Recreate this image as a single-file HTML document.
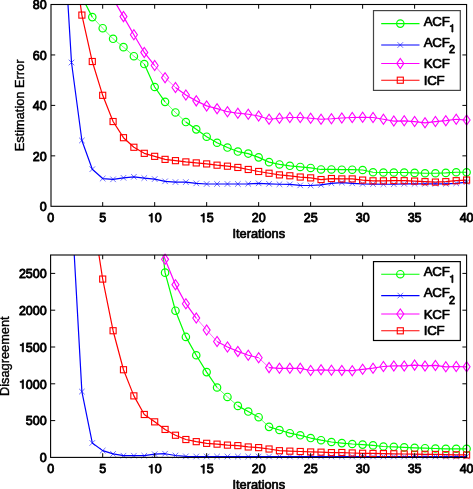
<!DOCTYPE html>
<html><head><meta charset="utf-8"><title>plot</title>
<style>
html,body{margin:0;padding:0;background:#fff;}
svg{display:block;will-change:transform;opacity:0.999}
text{font-family:"Liberation Sans",sans-serif;font-weight:normal;fill:#000;stroke:#000;stroke-width:0.7px;stroke-linejoin:round}
.t{font-size:12.5px}
.l{font-size:12.8px}
.g{font-size:13.3px;letter-spacing:-0.3px}
.s{font-size:10.6px}
.r{stroke-width:0.4px}
</style></head><body>
<svg width="473" height="489" viewBox="0 0 473 489">
<rect width="473" height="489" fill="#fff"/>
<defs>
<clipPath id="c1"><rect x="51.0" y="4.5" width="415.6" height="201.8"/></clipPath>
<clipPath id="c2"><rect x="51.0" y="255.0" width="415.6" height="202.39999999999998"/></clipPath>
</defs>
<g clip-path="url(#c1)">
<path d="M81.89 -3.07L92.29 17.11M144.28 64.03L154.68 86.99L165.07 101.87M185.87 122.05L196.26 129.36L206.66 136.68L217.06 142.73L227.46 147.53L237.86 151.56L248.25 153.58L258.65 157.36L269.05 162.16L279.45 164.43L289.84 165.81L300.24 166.95L310.64 167.96L321.04 169.47L331.43 169.47L341.83 169.72L352.23 169.72L362.63 169.98L373.02 172.25L383.42 172.50L393.82 172.50L404.21 172.50L414.61 172.88L425.01 173.26L435.41 173.26L445.81 172.88L456.20 172.25L466.60 172.25" fill="none" stroke="#00ff00" stroke-width="1.2" stroke-linejoin="round"/>
<path d="M92.29 17.11L102.69 28.21M102.69 28.21L113.09 38.81M113.09 38.81L123.48 47.13M123.48 47.13L133.88 56.21M133.88 56.21L144.28 64.03M165.07 101.87L175.47 112.46M175.47 112.46L185.87 122.05" fill="none" stroke="#00ff00" stroke-width="0.7" stroke-opacity="0.85"/>
<path d="M61.10 -109.01L71.50 62.52L81.89 140.46L92.29 169.22L102.69 178.55L113.09 179.31L123.48 177.80L133.88 176.79L144.28 178.05L154.68 179.06L165.07 181.33L175.47 182.08L185.87 182.08L196.26 183.35L206.66 183.98L217.06 183.98L227.46 183.98L237.86 183.98L248.25 183.85L258.65 183.35L269.05 183.85L279.45 184.23L289.84 184.35L300.24 185.36L310.64 185.49L321.04 184.86L331.43 183.35L341.83 182.59L352.23 183.35L362.63 183.85L373.02 184.10L383.42 184.23L393.82 184.23L404.21 183.85L414.61 183.85L425.01 183.85L435.41 183.85L445.81 183.85L456.20 183.35L466.60 182.08" fill="none" stroke="#0000ff" stroke-width="1.2" stroke-linejoin="round"/>
<path d="M113.09 -1.30L123.48 16.61L133.88 34.77L144.28 52.43L154.68 65.54M175.47 87.49L185.87 95.06L196.26 100.86L206.66 105.90L217.06 108.68L227.46 111.71L237.86 113.22L248.25 114.23L258.65 115.99L269.05 119.27L279.45 118.26L289.84 117.51L300.24 117.51L310.64 118.26L321.04 119.27L331.43 118.77L341.83 118.01L352.23 117.51L362.63 117.26L373.02 117.51L383.42 119.27L393.82 121.04L404.21 120.79L414.61 121.54L425.01 122.81L435.41 121.54L445.81 120.66L456.20 119.27L466.60 120.03" fill="none" stroke="#ff00ff" stroke-width="1.2" stroke-linejoin="round"/>
<path d="M154.68 65.54L165.07 77.65M165.07 77.65L175.47 87.49" fill="none" stroke="#ff00ff" stroke-width="0.7" stroke-opacity="0.85"/>
<path d="M71.50 -58.56L81.89 15.09L92.29 61.51L102.69 95.31L113.09 121.54L123.48 137.69L133.88 147.27L144.28 153.33L154.68 156.35L165.07 159.38L175.47 160.64L185.87 161.90L196.26 162.91L206.66 163.92L217.06 165.18L227.46 166.19L237.86 167.45L248.25 169.47L258.65 171.49L269.05 173.26L279.45 174.89L289.84 175.78L300.24 177.04L310.64 177.87L321.04 179.56L331.43 178.55L341.83 178.93L352.23 178.93L362.63 180.07L373.02 180.82L383.42 180.82L393.82 180.57L404.21 180.70L414.61 181.08L425.01 181.68L435.41 182.08L445.81 181.68L456.20 180.70L466.60 180.07" fill="none" stroke="#ff0000" stroke-width="1.2" stroke-linejoin="round"/>
</g>
<circle cx="92.29" cy="17.11" r="3.7" fill="none" stroke="#00ff00" stroke-width="1.2000000000000002"/>
<circle cx="102.69" cy="28.21" r="3.7" fill="none" stroke="#00ff00" stroke-width="1.2000000000000002"/>
<circle cx="113.09" cy="38.81" r="3.7" fill="none" stroke="#00ff00" stroke-width="1.2000000000000002"/>
<circle cx="123.48" cy="47.13" r="3.7" fill="none" stroke="#00ff00" stroke-width="1.2000000000000002"/>
<circle cx="133.88" cy="56.21" r="3.7" fill="none" stroke="#00ff00" stroke-width="1.2000000000000002"/>
<circle cx="144.28" cy="64.03" r="3.7" fill="none" stroke="#00ff00" stroke-width="1.2000000000000002"/>
<circle cx="154.68" cy="86.99" r="3.7" fill="none" stroke="#00ff00" stroke-width="1.2000000000000002"/>
<circle cx="165.07" cy="101.87" r="3.7" fill="none" stroke="#00ff00" stroke-width="1.2000000000000002"/>
<circle cx="175.47" cy="112.46" r="3.7" fill="none" stroke="#00ff00" stroke-width="1.2000000000000002"/>
<circle cx="185.87" cy="122.05" r="3.7" fill="none" stroke="#00ff00" stroke-width="1.2000000000000002"/>
<circle cx="196.26" cy="129.36" r="3.7" fill="none" stroke="#00ff00" stroke-width="1.2000000000000002"/>
<circle cx="206.66" cy="136.68" r="3.7" fill="none" stroke="#00ff00" stroke-width="1.2000000000000002"/>
<circle cx="217.06" cy="142.73" r="3.7" fill="none" stroke="#00ff00" stroke-width="1.2000000000000002"/>
<circle cx="227.46" cy="147.53" r="3.7" fill="none" stroke="#00ff00" stroke-width="1.2000000000000002"/>
<circle cx="237.86" cy="151.56" r="3.7" fill="none" stroke="#00ff00" stroke-width="1.2000000000000002"/>
<circle cx="248.25" cy="153.58" r="3.7" fill="none" stroke="#00ff00" stroke-width="1.2000000000000002"/>
<circle cx="258.65" cy="157.36" r="3.7" fill="none" stroke="#00ff00" stroke-width="1.2000000000000002"/>
<circle cx="269.05" cy="162.16" r="3.7" fill="none" stroke="#00ff00" stroke-width="1.2000000000000002"/>
<circle cx="279.45" cy="164.43" r="3.7" fill="none" stroke="#00ff00" stroke-width="1.2000000000000002"/>
<circle cx="289.84" cy="165.81" r="3.7" fill="none" stroke="#00ff00" stroke-width="1.2000000000000002"/>
<circle cx="300.24" cy="166.95" r="3.7" fill="none" stroke="#00ff00" stroke-width="1.2000000000000002"/>
<circle cx="310.64" cy="167.96" r="3.7" fill="none" stroke="#00ff00" stroke-width="1.2000000000000002"/>
<circle cx="321.04" cy="169.47" r="3.7" fill="none" stroke="#00ff00" stroke-width="1.2000000000000002"/>
<circle cx="331.43" cy="169.47" r="3.7" fill="none" stroke="#00ff00" stroke-width="1.2000000000000002"/>
<circle cx="341.83" cy="169.72" r="3.7" fill="none" stroke="#00ff00" stroke-width="1.2000000000000002"/>
<circle cx="352.23" cy="169.72" r="3.7" fill="none" stroke="#00ff00" stroke-width="1.2000000000000002"/>
<circle cx="362.63" cy="169.98" r="3.7" fill="none" stroke="#00ff00" stroke-width="1.2000000000000002"/>
<circle cx="373.02" cy="172.25" r="3.7" fill="none" stroke="#00ff00" stroke-width="1.2000000000000002"/>
<circle cx="383.42" cy="172.50" r="3.7" fill="none" stroke="#00ff00" stroke-width="1.2000000000000002"/>
<circle cx="393.82" cy="172.50" r="3.7" fill="none" stroke="#00ff00" stroke-width="1.2000000000000002"/>
<circle cx="404.21" cy="172.50" r="3.7" fill="none" stroke="#00ff00" stroke-width="1.2000000000000002"/>
<circle cx="414.61" cy="172.88" r="3.7" fill="none" stroke="#00ff00" stroke-width="1.2000000000000002"/>
<circle cx="425.01" cy="173.26" r="3.7" fill="none" stroke="#00ff00" stroke-width="1.2000000000000002"/>
<circle cx="435.41" cy="173.26" r="3.7" fill="none" stroke="#00ff00" stroke-width="1.2000000000000002"/>
<circle cx="445.81" cy="172.88" r="3.7" fill="none" stroke="#00ff00" stroke-width="1.2000000000000002"/>
<circle cx="456.20" cy="172.25" r="3.7" fill="none" stroke="#00ff00" stroke-width="1.2000000000000002"/>
<circle cx="466.60" cy="172.25" r="3.7" fill="none" stroke="#00ff00" stroke-width="1.2000000000000002"/>
<path d="M68.70 59.72L74.30 65.32M68.70 65.32L74.30 59.72" fill="none" stroke="#0000ff" stroke-width="0.7" stroke-opacity="0.8"/>
<path d="M79.09 137.66L84.69 143.26M79.09 143.26L84.69 137.66" fill="none" stroke="#0000ff" stroke-width="0.7" stroke-opacity="0.8"/>
<path d="M89.49 166.42L95.09 172.02M89.49 172.02L95.09 166.42" fill="none" stroke="#0000ff" stroke-width="0.7" stroke-opacity="0.8"/>
<path d="M99.89 175.75L105.49 181.35M99.89 181.35L105.49 175.75" fill="none" stroke="#0000ff" stroke-width="0.7" stroke-opacity="0.8"/>
<path d="M110.29 176.51L115.89 182.11M110.29 182.11L115.89 176.51" fill="none" stroke="#0000ff" stroke-width="0.7" stroke-opacity="0.8"/>
<path d="M120.68 175.00L126.28 180.60M120.68 180.60L126.28 175.00" fill="none" stroke="#0000ff" stroke-width="0.7" stroke-opacity="0.8"/>
<path d="M131.08 173.99L136.68 179.59M131.08 179.59L136.68 173.99" fill="none" stroke="#0000ff" stroke-width="0.7" stroke-opacity="0.8"/>
<path d="M141.48 175.25L147.08 180.85M141.48 180.85L147.08 175.25" fill="none" stroke="#0000ff" stroke-width="0.7" stroke-opacity="0.8"/>
<path d="M151.88 176.26L157.48 181.86M151.88 181.86L157.48 176.26" fill="none" stroke="#0000ff" stroke-width="0.7" stroke-opacity="0.8"/>
<path d="M162.27 178.53L167.87 184.13M162.27 184.13L167.87 178.53" fill="none" stroke="#0000ff" stroke-width="0.7" stroke-opacity="0.8"/>
<path d="M172.67 179.28L178.27 184.88M172.67 184.88L178.27 179.28" fill="none" stroke="#0000ff" stroke-width="0.7" stroke-opacity="0.8"/>
<path d="M183.07 179.28L188.67 184.88M183.07 184.88L188.67 179.28" fill="none" stroke="#0000ff" stroke-width="0.7" stroke-opacity="0.8"/>
<path d="M193.46 180.55L199.06 186.15M193.46 186.15L199.06 180.55" fill="none" stroke="#0000ff" stroke-width="0.7" stroke-opacity="0.8"/>
<path d="M203.86 181.18L209.46 186.78M203.86 186.78L209.46 181.18" fill="none" stroke="#0000ff" stroke-width="0.7" stroke-opacity="0.8"/>
<path d="M214.26 181.18L219.86 186.78M214.26 186.78L219.86 181.18" fill="none" stroke="#0000ff" stroke-width="0.7" stroke-opacity="0.8"/>
<path d="M224.66 181.18L230.26 186.78M224.66 186.78L230.26 181.18" fill="none" stroke="#0000ff" stroke-width="0.7" stroke-opacity="0.8"/>
<path d="M235.06 181.18L240.66 186.78M235.06 186.78L240.66 181.18" fill="none" stroke="#0000ff" stroke-width="0.7" stroke-opacity="0.8"/>
<path d="M245.45 181.05L251.05 186.65M245.45 186.65L251.05 181.05" fill="none" stroke="#0000ff" stroke-width="0.7" stroke-opacity="0.8"/>
<path d="M255.85 180.55L261.45 186.15M255.85 186.15L261.45 180.55" fill="none" stroke="#0000ff" stroke-width="0.7" stroke-opacity="0.8"/>
<path d="M266.25 181.05L271.85 186.65M266.25 186.65L271.85 181.05" fill="none" stroke="#0000ff" stroke-width="0.7" stroke-opacity="0.8"/>
<path d="M276.65 181.43L282.25 187.03M276.65 187.03L282.25 181.43" fill="none" stroke="#0000ff" stroke-width="0.7" stroke-opacity="0.8"/>
<path d="M287.04 181.55L292.64 187.15M287.04 187.15L292.64 181.55" fill="none" stroke="#0000ff" stroke-width="0.7" stroke-opacity="0.8"/>
<path d="M297.44 182.56L303.04 188.16M297.44 188.16L303.04 182.56" fill="none" stroke="#0000ff" stroke-width="0.7" stroke-opacity="0.8"/>
<path d="M307.84 182.69L313.44 188.29M307.84 188.29L313.44 182.69" fill="none" stroke="#0000ff" stroke-width="0.7" stroke-opacity="0.8"/>
<path d="M318.24 182.06L323.84 187.66M318.24 187.66L323.84 182.06" fill="none" stroke="#0000ff" stroke-width="0.7" stroke-opacity="0.8"/>
<path d="M328.63 180.55L334.23 186.15M328.63 186.15L334.23 180.55" fill="none" stroke="#0000ff" stroke-width="0.7" stroke-opacity="0.8"/>
<path d="M339.03 179.79L344.63 185.39M339.03 185.39L344.63 179.79" fill="none" stroke="#0000ff" stroke-width="0.7" stroke-opacity="0.8"/>
<path d="M349.43 180.55L355.03 186.15M349.43 186.15L355.03 180.55" fill="none" stroke="#0000ff" stroke-width="0.7" stroke-opacity="0.8"/>
<path d="M359.83 181.05L365.43 186.65M359.83 186.65L365.43 181.05" fill="none" stroke="#0000ff" stroke-width="0.7" stroke-opacity="0.8"/>
<path d="M370.22 181.30L375.82 186.90M370.22 186.90L375.82 181.30" fill="none" stroke="#0000ff" stroke-width="0.7" stroke-opacity="0.8"/>
<path d="M380.62 181.43L386.22 187.03M380.62 187.03L386.22 181.43" fill="none" stroke="#0000ff" stroke-width="0.7" stroke-opacity="0.8"/>
<path d="M391.02 181.43L396.62 187.03M391.02 187.03L396.62 181.43" fill="none" stroke="#0000ff" stroke-width="0.7" stroke-opacity="0.8"/>
<path d="M401.41 181.05L407.01 186.65M401.41 186.65L407.01 181.05" fill="none" stroke="#0000ff" stroke-width="0.7" stroke-opacity="0.8"/>
<path d="M411.81 181.05L417.41 186.65M411.81 186.65L417.41 181.05" fill="none" stroke="#0000ff" stroke-width="0.7" stroke-opacity="0.8"/>
<path d="M422.21 181.05L427.81 186.65M422.21 186.65L427.81 181.05" fill="none" stroke="#0000ff" stroke-width="0.7" stroke-opacity="0.8"/>
<path d="M432.61 181.05L438.21 186.65M432.61 186.65L438.21 181.05" fill="none" stroke="#0000ff" stroke-width="0.7" stroke-opacity="0.8"/>
<path d="M443.00 181.05L448.61 186.65M443.00 186.65L448.61 181.05" fill="none" stroke="#0000ff" stroke-width="0.7" stroke-opacity="0.8"/>
<path d="M453.40 180.55L459.00 186.15M453.40 186.15L459.00 180.55" fill="none" stroke="#0000ff" stroke-width="0.7" stroke-opacity="0.8"/>
<path d="M463.80 179.28L469.40 184.88M463.80 184.88L469.40 179.28" fill="none" stroke="#0000ff" stroke-width="0.7" stroke-opacity="0.8"/>
<path d="M119.98 16.61L123.48 11.56L126.98 16.61L123.48 21.66Z" fill="none" stroke="#ff00ff" stroke-width="1.1"/>
<path d="M130.38 34.77L133.88 29.72L137.38 34.77L133.88 39.82Z" fill="none" stroke="#ff00ff" stroke-width="1.1"/>
<path d="M140.78 52.43L144.28 47.38L147.78 52.43L144.28 57.48Z" fill="none" stroke="#ff00ff" stroke-width="1.1"/>
<path d="M151.18 65.54L154.68 60.49L158.18 65.54L154.68 70.59Z" fill="none" stroke="#ff00ff" stroke-width="1.1"/>
<path d="M161.57 77.65L165.07 72.60L168.57 77.65L165.07 82.70Z" fill="none" stroke="#ff00ff" stroke-width="1.1"/>
<path d="M171.97 87.49L175.47 82.44L178.97 87.49L175.47 92.54Z" fill="none" stroke="#ff00ff" stroke-width="1.1"/>
<path d="M182.37 95.06L185.87 90.01L189.37 95.06L185.87 100.11Z" fill="none" stroke="#ff00ff" stroke-width="1.1"/>
<path d="M192.76 100.86L196.26 95.81L199.76 100.86L196.26 105.91Z" fill="none" stroke="#ff00ff" stroke-width="1.1"/>
<path d="M203.16 105.90L206.66 100.85L210.16 105.90L206.66 110.95Z" fill="none" stroke="#ff00ff" stroke-width="1.1"/>
<path d="M213.56 108.68L217.06 103.63L220.56 108.68L217.06 113.73Z" fill="none" stroke="#ff00ff" stroke-width="1.1"/>
<path d="M223.96 111.71L227.46 106.66L230.96 111.71L227.46 116.76Z" fill="none" stroke="#ff00ff" stroke-width="1.1"/>
<path d="M234.36 113.22L237.86 108.17L241.36 113.22L237.86 118.27Z" fill="none" stroke="#ff00ff" stroke-width="1.1"/>
<path d="M244.75 114.23L248.25 109.18L251.75 114.23L248.25 119.28Z" fill="none" stroke="#ff00ff" stroke-width="1.1"/>
<path d="M255.15 115.99L258.65 110.94L262.15 115.99L258.65 121.04Z" fill="none" stroke="#ff00ff" stroke-width="1.1"/>
<path d="M265.55 119.27L269.05 114.22L272.55 119.27L269.05 124.32Z" fill="none" stroke="#ff00ff" stroke-width="1.1"/>
<path d="M275.95 118.26L279.45 113.21L282.95 118.26L279.45 123.31Z" fill="none" stroke="#ff00ff" stroke-width="1.1"/>
<path d="M286.34 117.51L289.84 112.46L293.34 117.51L289.84 122.56Z" fill="none" stroke="#ff00ff" stroke-width="1.1"/>
<path d="M296.74 117.51L300.24 112.46L303.74 117.51L300.24 122.56Z" fill="none" stroke="#ff00ff" stroke-width="1.1"/>
<path d="M307.14 118.26L310.64 113.21L314.14 118.26L310.64 123.31Z" fill="none" stroke="#ff00ff" stroke-width="1.1"/>
<path d="M317.54 119.27L321.04 114.22L324.54 119.27L321.04 124.32Z" fill="none" stroke="#ff00ff" stroke-width="1.1"/>
<path d="M327.93 118.77L331.43 113.72L334.93 118.77L331.43 123.82Z" fill="none" stroke="#ff00ff" stroke-width="1.1"/>
<path d="M338.33 118.01L341.83 112.96L345.33 118.01L341.83 123.06Z" fill="none" stroke="#ff00ff" stroke-width="1.1"/>
<path d="M348.73 117.51L352.23 112.46L355.73 117.51L352.23 122.56Z" fill="none" stroke="#ff00ff" stroke-width="1.1"/>
<path d="M359.13 117.26L362.63 112.21L366.13 117.26L362.63 122.31Z" fill="none" stroke="#ff00ff" stroke-width="1.1"/>
<path d="M369.52 117.51L373.02 112.46L376.52 117.51L373.02 122.56Z" fill="none" stroke="#ff00ff" stroke-width="1.1"/>
<path d="M379.92 119.27L383.42 114.22L386.92 119.27L383.42 124.32Z" fill="none" stroke="#ff00ff" stroke-width="1.1"/>
<path d="M390.32 121.04L393.82 115.99L397.32 121.04L393.82 126.09Z" fill="none" stroke="#ff00ff" stroke-width="1.1"/>
<path d="M400.71 120.79L404.21 115.74L407.71 120.79L404.21 125.84Z" fill="none" stroke="#ff00ff" stroke-width="1.1"/>
<path d="M411.11 121.54L414.61 116.49L418.11 121.54L414.61 126.59Z" fill="none" stroke="#ff00ff" stroke-width="1.1"/>
<path d="M421.51 122.81L425.01 117.76L428.51 122.81L425.01 127.86Z" fill="none" stroke="#ff00ff" stroke-width="1.1"/>
<path d="M431.91 121.54L435.41 116.49L438.91 121.54L435.41 126.59Z" fill="none" stroke="#ff00ff" stroke-width="1.1"/>
<path d="M442.31 120.66L445.81 115.61L449.31 120.66L445.81 125.71Z" fill="none" stroke="#ff00ff" stroke-width="1.1"/>
<path d="M452.70 119.27L456.20 114.22L459.70 119.27L456.20 124.32Z" fill="none" stroke="#ff00ff" stroke-width="1.1"/>
<path d="M463.10 120.03L466.60 114.98L470.10 120.03L466.60 125.08Z" fill="none" stroke="#ff00ff" stroke-width="1.1"/>
<rect x="78.84" y="12.04" width="6.1" height="6.1" fill="none" stroke="#ff0000" stroke-width="1.1"/>
<rect x="89.24" y="58.46" width="6.1" height="6.1" fill="none" stroke="#ff0000" stroke-width="1.1"/>
<rect x="99.64" y="92.26" width="6.1" height="6.1" fill="none" stroke="#ff0000" stroke-width="1.1"/>
<rect x="110.04" y="118.49" width="6.1" height="6.1" fill="none" stroke="#ff0000" stroke-width="1.1"/>
<rect x="120.43" y="134.64" width="6.1" height="6.1" fill="none" stroke="#ff0000" stroke-width="1.1"/>
<rect x="130.83" y="144.22" width="6.1" height="6.1" fill="none" stroke="#ff0000" stroke-width="1.1"/>
<rect x="141.23" y="150.28" width="6.1" height="6.1" fill="none" stroke="#ff0000" stroke-width="1.1"/>
<rect x="151.62" y="153.30" width="6.1" height="6.1" fill="none" stroke="#ff0000" stroke-width="1.1"/>
<rect x="162.02" y="156.33" width="6.1" height="6.1" fill="none" stroke="#ff0000" stroke-width="1.1"/>
<rect x="172.42" y="157.59" width="6.1" height="6.1" fill="none" stroke="#ff0000" stroke-width="1.1"/>
<rect x="182.82" y="158.85" width="6.1" height="6.1" fill="none" stroke="#ff0000" stroke-width="1.1"/>
<rect x="193.21" y="159.86" width="6.1" height="6.1" fill="none" stroke="#ff0000" stroke-width="1.1"/>
<rect x="203.61" y="160.87" width="6.1" height="6.1" fill="none" stroke="#ff0000" stroke-width="1.1"/>
<rect x="214.01" y="162.13" width="6.1" height="6.1" fill="none" stroke="#ff0000" stroke-width="1.1"/>
<rect x="224.41" y="163.14" width="6.1" height="6.1" fill="none" stroke="#ff0000" stroke-width="1.1"/>
<rect x="234.81" y="164.40" width="6.1" height="6.1" fill="none" stroke="#ff0000" stroke-width="1.1"/>
<rect x="245.20" y="166.42" width="6.1" height="6.1" fill="none" stroke="#ff0000" stroke-width="1.1"/>
<rect x="255.60" y="168.44" width="6.1" height="6.1" fill="none" stroke="#ff0000" stroke-width="1.1"/>
<rect x="266.00" y="170.21" width="6.1" height="6.1" fill="none" stroke="#ff0000" stroke-width="1.1"/>
<rect x="276.40" y="171.84" width="6.1" height="6.1" fill="none" stroke="#ff0000" stroke-width="1.1"/>
<rect x="286.79" y="172.73" width="6.1" height="6.1" fill="none" stroke="#ff0000" stroke-width="1.1"/>
<rect x="297.19" y="173.99" width="6.1" height="6.1" fill="none" stroke="#ff0000" stroke-width="1.1"/>
<rect x="307.59" y="174.82" width="6.1" height="6.1" fill="none" stroke="#ff0000" stroke-width="1.1"/>
<rect x="317.99" y="176.51" width="6.1" height="6.1" fill="none" stroke="#ff0000" stroke-width="1.1"/>
<rect x="328.38" y="175.50" width="6.1" height="6.1" fill="none" stroke="#ff0000" stroke-width="1.1"/>
<rect x="338.78" y="175.88" width="6.1" height="6.1" fill="none" stroke="#ff0000" stroke-width="1.1"/>
<rect x="349.18" y="175.88" width="6.1" height="6.1" fill="none" stroke="#ff0000" stroke-width="1.1"/>
<rect x="359.58" y="177.02" width="6.1" height="6.1" fill="none" stroke="#ff0000" stroke-width="1.1"/>
<rect x="369.97" y="177.77" width="6.1" height="6.1" fill="none" stroke="#ff0000" stroke-width="1.1"/>
<rect x="380.37" y="177.77" width="6.1" height="6.1" fill="none" stroke="#ff0000" stroke-width="1.1"/>
<rect x="390.77" y="177.52" width="6.1" height="6.1" fill="none" stroke="#ff0000" stroke-width="1.1"/>
<rect x="401.16" y="177.65" width="6.1" height="6.1" fill="none" stroke="#ff0000" stroke-width="1.1"/>
<rect x="411.56" y="178.03" width="6.1" height="6.1" fill="none" stroke="#ff0000" stroke-width="1.1"/>
<rect x="421.96" y="178.63" width="6.1" height="6.1" fill="none" stroke="#ff0000" stroke-width="1.1"/>
<rect x="432.36" y="179.03" width="6.1" height="6.1" fill="none" stroke="#ff0000" stroke-width="1.1"/>
<rect x="442.75" y="178.63" width="6.1" height="6.1" fill="none" stroke="#ff0000" stroke-width="1.1"/>
<rect x="453.15" y="177.65" width="6.1" height="6.1" fill="none" stroke="#ff0000" stroke-width="1.1"/>
<rect x="463.55" y="177.02" width="6.1" height="6.1" fill="none" stroke="#ff0000" stroke-width="1.1"/>
<text x="47.23" y="222.20" style="font-size:12.5px;stroke-width:0.85px">0</text>
<path d="M102.69 206.3v-4.2M102.69 4.5v4.2" stroke="#000" stroke-width="1"/>
<text x="99.21" y="222.20" style="font-size:12.5px;stroke-width:0.85px">5</text>
<path d="M154.68 206.3v-4.2M154.68 4.5v4.2" stroke="#000" stroke-width="1"/>
<path transform="translate(147.73 222.20) scale(12.5)" d="M0.359 0H0.271V-0.505H0.101V-0.568C0.2 -0.572 0.288 -0.6 0.302 -0.709H0.359Z" fill="#000" stroke="#000" stroke-width="0.0680" stroke-linejoin="round"/><text x="154.68" y="222.20" style="font-size:12.5px;stroke-width:0.85px">0</text>
<path d="M206.66 206.3v-4.2M206.66 4.5v4.2" stroke="#000" stroke-width="1"/>
<path transform="translate(199.71 222.20) scale(12.5)" d="M0.359 0H0.271V-0.505H0.101V-0.568C0.2 -0.572 0.288 -0.6 0.302 -0.709H0.359Z" fill="#000" stroke="#000" stroke-width="0.0680" stroke-linejoin="round"/><text x="206.66" y="222.20" style="font-size:12.5px;stroke-width:0.85px">5</text>
<path d="M258.65 206.3v-4.2M258.65 4.5v4.2" stroke="#000" stroke-width="1"/>
<text x="251.70" y="222.20" style="font-size:12.5px;stroke-width:0.85px">2</text><text x="258.65" y="222.20" style="font-size:12.5px;stroke-width:0.85px">0</text>
<path d="M310.64 206.3v-4.2M310.64 4.5v4.2" stroke="#000" stroke-width="1"/>
<text x="303.69" y="222.20" style="font-size:12.5px;stroke-width:0.85px">2</text><text x="310.64" y="222.20" style="font-size:12.5px;stroke-width:0.85px">5</text>
<path d="M362.63 206.3v-4.2M362.63 4.5v4.2" stroke="#000" stroke-width="1"/>
<text x="355.68" y="222.20" style="font-size:12.5px;stroke-width:0.85px">3</text><text x="362.63" y="222.20" style="font-size:12.5px;stroke-width:0.85px">0</text>
<path d="M414.61 206.3v-4.2M414.61 4.5v4.2" stroke="#000" stroke-width="1"/>
<text x="407.66" y="222.20" style="font-size:12.5px;stroke-width:0.85px">3</text><text x="414.61" y="222.20" style="font-size:12.5px;stroke-width:0.85px">5</text>
<text x="459.65" y="222.20" style="font-size:12.5px;stroke-width:0.85px">4</text><text x="466.60" y="222.20" style="font-size:12.5px;stroke-width:0.85px">0</text>
<text x="39.75" y="211.05" style="font-size:12.5px;stroke-width:0.85px">0</text>
<path d="M51.0 155.85h4.2M466.6 155.85h-4.2" stroke="#000" stroke-width="1"/>
<text x="32.80" y="160.60" style="font-size:12.5px;stroke-width:0.85px">2</text><text x="39.75" y="160.60" style="font-size:12.5px;stroke-width:0.85px">0</text>
<path d="M51.0 105.40h4.2M466.6 105.40h-4.2" stroke="#000" stroke-width="1"/>
<text x="32.80" y="110.15" style="font-size:12.5px;stroke-width:0.85px">4</text><text x="39.75" y="110.15" style="font-size:12.5px;stroke-width:0.85px">0</text>
<path d="M51.0 54.95h4.2M466.6 54.95h-4.2" stroke="#000" stroke-width="1"/>
<text x="32.80" y="59.70" style="font-size:12.5px;stroke-width:0.85px">6</text><text x="39.75" y="59.70" style="font-size:12.5px;stroke-width:0.85px">0</text>
<text x="32.80" y="9.25" style="font-size:12.5px;stroke-width:0.85px">8</text><text x="39.75" y="9.25" style="font-size:12.5px;stroke-width:0.85px">0</text>
<rect x="51.0" y="4.5" width="415.6" height="201.8" fill="none" stroke="#000" stroke-width="1.1"/>
<text x="258.80" y="237.50" text-anchor="middle" class="l">Iterations</text>
<text transform="translate(23.8,105.40) rotate(-90)" text-anchor="middle" class="l r">Estimation Error</text>
<rect x="373.5" y="10.6" width="86.80000000000001" height="79.8" fill="#fff" stroke="#444" stroke-width="1.2"/>
<path d="M381.2 23.60H419.5" stroke="#00ff00" stroke-width="1.05"/>
<circle cx="400.30" cy="23.60" r="3.7" fill="none" stroke="#00ff00" stroke-width="1.2000000000000002"/>
<text x="423.8" y="25.55" class="g">ACF</text>
<path transform="translate(449.00 32.00) scale(10.8)" d="M0.359 0H0.271V-0.505H0.101V-0.568C0.2 -0.572 0.288 -0.6 0.302 -0.709H0.359Z" fill="#000" stroke="#000" stroke-width="0.0787" stroke-linejoin="round"/>
<path d="M381.2 45.00H419.5" stroke="#0000ff" stroke-width="1.05"/>
<path d="M397.50 42.20L403.10 47.80M397.50 47.80L403.10 42.20" fill="none" stroke="#0000ff" stroke-width="0.7" stroke-opacity="0.8"/>
<text x="423.8" y="46.60" class="g">ACF</text>
<text x="449.00" y="53.30" style="font-size:10.8px;stroke-width:0.85px">2</text>
<path d="M381.2 63.40H419.5" stroke="#ff00ff" stroke-width="1.05"/>
<path d="M396.80 63.40L400.30 58.35L403.80 63.40L400.30 68.45Z" fill="none" stroke="#ff00ff" stroke-width="1.1"/>
<text x="423.8" y="67.90" class="g">KCF</text>
<path d="M381.2 80.20H419.5" stroke="#ff0000" stroke-width="1.05"/>
<rect x="397.25" y="77.15" width="6.1" height="6.1" fill="none" stroke="#ff0000" stroke-width="1.1"/>
<text x="423.8" y="84.80" class="g">ICF</text>
<g clip-path="url(#c2)">
<path d="M154.68 178.90L165.07 272.66L175.47 310.72L185.87 336.92L196.26 355.24L206.66 372.10L217.06 387.48M237.86 405.88L248.25 411.55L258.65 417.21M269.05 426.86L279.45 430.02L289.84 433.19L300.24 435.32L310.64 438.04L321.04 440.18L331.43 442.02L341.83 443.12L352.23 444.00L362.63 444.59L373.02 445.40L383.42 446.51L393.82 446.80L404.21 447.39L414.61 447.91L425.01 448.20L435.41 448.49L445.81 448.79L456.20 448.79L466.60 448.79" fill="none" stroke="#00ff00" stroke-width="1.2" stroke-linejoin="round"/>
<path d="M217.06 387.48L227.46 396.97M227.46 396.97L237.86 405.88M258.65 417.21L269.05 426.86" fill="none" stroke="#00ff00" stroke-width="0.7" stroke-opacity="0.85"/>
<path d="M71.50 205.69L81.89 391.60L92.29 442.97L102.69 450.63L113.09 453.94L123.48 455.71L133.88 455.71L144.28 455.71L154.68 454.16L165.07 453.72L175.47 455.49L185.87 456.37L196.26 456.52L206.66 456.52L217.06 456.52L227.46 456.52L237.86 456.52L248.25 456.52L258.65 456.52L269.05 456.52L279.45 456.52L289.84 456.52L300.24 456.52L310.64 456.52L321.04 456.52L331.43 456.52L341.83 456.52L352.23 456.52L362.63 456.52L373.02 456.52L383.42 456.52L393.82 456.52L404.21 456.52L414.61 456.52L425.01 456.52L435.41 456.52L445.81 456.52L456.20 456.52L466.60 456.52" fill="none" stroke="#0000ff" stroke-width="1.2" stroke-linejoin="round"/>
<path d="M154.68 232.40L165.07 259.34L175.47 284.66L185.87 303.72L196.26 318.08M217.06 341.55L227.46 347.00L237.86 351.42L248.25 355.24L258.65 357.75M269.05 367.61L279.45 368.34L289.84 368.34L300.24 368.34L310.64 370.48L321.04 369.82L331.43 370.26L341.83 370.40L352.23 370.70L362.63 369.30L373.02 368.20L383.42 366.50L393.82 365.92L404.21 365.92L414.61 365.11L425.01 365.92L435.41 365.40L445.81 366.80L456.20 366.50L466.60 366.80" fill="none" stroke="#ff00ff" stroke-width="1.2" stroke-linejoin="round"/>
<path d="M196.26 318.08L206.66 330.07M206.66 330.07L217.06 341.55M258.65 357.75L269.05 367.61" fill="none" stroke="#ff00ff" stroke-width="0.7" stroke-opacity="0.85"/>
<path d="M92.29 212.53L102.69 279.07L113.09 330.73L123.48 369.74L133.88 395.87L144.28 414.49L154.68 421.85L165.07 429.43L175.47 435.25L185.87 439.52L196.26 441.65L206.66 443.34L217.06 444.15L227.46 445.11L237.86 445.62L248.25 446.95L258.65 447.61L269.05 449.01L279.45 450.70L289.84 451.14L300.24 451.51L310.64 451.95L321.04 452.17L331.43 452.62L341.83 452.54L352.23 452.98L362.63 453.28L373.02 453.43L383.42 453.65L393.82 453.79L404.21 454.01L414.61 454.16L425.01 454.31L435.41 454.46L445.81 454.68L456.20 454.82L466.60 454.97" fill="none" stroke="#ff0000" stroke-width="1.2" stroke-linejoin="round"/>
</g>
<circle cx="165.07" cy="272.66" r="3.7" fill="none" stroke="#00ff00" stroke-width="1.2000000000000002"/>
<circle cx="175.47" cy="310.72" r="3.7" fill="none" stroke="#00ff00" stroke-width="1.2000000000000002"/>
<circle cx="185.87" cy="336.92" r="3.7" fill="none" stroke="#00ff00" stroke-width="1.2000000000000002"/>
<circle cx="196.26" cy="355.24" r="3.7" fill="none" stroke="#00ff00" stroke-width="1.2000000000000002"/>
<circle cx="206.66" cy="372.10" r="3.7" fill="none" stroke="#00ff00" stroke-width="1.2000000000000002"/>
<circle cx="217.06" cy="387.48" r="3.7" fill="none" stroke="#00ff00" stroke-width="1.2000000000000002"/>
<circle cx="227.46" cy="396.97" r="3.7" fill="none" stroke="#00ff00" stroke-width="1.2000000000000002"/>
<circle cx="237.86" cy="405.88" r="3.7" fill="none" stroke="#00ff00" stroke-width="1.2000000000000002"/>
<circle cx="248.25" cy="411.55" r="3.7" fill="none" stroke="#00ff00" stroke-width="1.2000000000000002"/>
<circle cx="258.65" cy="417.21" r="3.7" fill="none" stroke="#00ff00" stroke-width="1.2000000000000002"/>
<circle cx="269.05" cy="426.86" r="3.7" fill="none" stroke="#00ff00" stroke-width="1.2000000000000002"/>
<circle cx="279.45" cy="430.02" r="3.7" fill="none" stroke="#00ff00" stroke-width="1.2000000000000002"/>
<circle cx="289.84" cy="433.19" r="3.7" fill="none" stroke="#00ff00" stroke-width="1.2000000000000002"/>
<circle cx="300.24" cy="435.32" r="3.7" fill="none" stroke="#00ff00" stroke-width="1.2000000000000002"/>
<circle cx="310.64" cy="438.04" r="3.7" fill="none" stroke="#00ff00" stroke-width="1.2000000000000002"/>
<circle cx="321.04" cy="440.18" r="3.7" fill="none" stroke="#00ff00" stroke-width="1.2000000000000002"/>
<circle cx="331.43" cy="442.02" r="3.7" fill="none" stroke="#00ff00" stroke-width="1.2000000000000002"/>
<circle cx="341.83" cy="443.12" r="3.7" fill="none" stroke="#00ff00" stroke-width="1.2000000000000002"/>
<circle cx="352.23" cy="444.00" r="3.7" fill="none" stroke="#00ff00" stroke-width="1.2000000000000002"/>
<circle cx="362.63" cy="444.59" r="3.7" fill="none" stroke="#00ff00" stroke-width="1.2000000000000002"/>
<circle cx="373.02" cy="445.40" r="3.7" fill="none" stroke="#00ff00" stroke-width="1.2000000000000002"/>
<circle cx="383.42" cy="446.51" r="3.7" fill="none" stroke="#00ff00" stroke-width="1.2000000000000002"/>
<circle cx="393.82" cy="446.80" r="3.7" fill="none" stroke="#00ff00" stroke-width="1.2000000000000002"/>
<circle cx="404.21" cy="447.39" r="3.7" fill="none" stroke="#00ff00" stroke-width="1.2000000000000002"/>
<circle cx="414.61" cy="447.91" r="3.7" fill="none" stroke="#00ff00" stroke-width="1.2000000000000002"/>
<circle cx="425.01" cy="448.20" r="3.7" fill="none" stroke="#00ff00" stroke-width="1.2000000000000002"/>
<circle cx="435.41" cy="448.49" r="3.7" fill="none" stroke="#00ff00" stroke-width="1.2000000000000002"/>
<circle cx="445.81" cy="448.79" r="3.7" fill="none" stroke="#00ff00" stroke-width="1.2000000000000002"/>
<circle cx="456.20" cy="448.79" r="3.7" fill="none" stroke="#00ff00" stroke-width="1.2000000000000002"/>
<circle cx="466.60" cy="448.79" r="3.7" fill="none" stroke="#00ff00" stroke-width="1.2000000000000002"/>
<path d="M79.09 388.80L84.69 394.40M79.09 394.40L84.69 388.80" fill="none" stroke="#0000ff" stroke-width="0.7" stroke-opacity="0.8"/>
<path d="M89.49 440.17L95.09 445.77M89.49 445.77L95.09 440.17" fill="none" stroke="#0000ff" stroke-width="0.7" stroke-opacity="0.8"/>
<path d="M99.89 447.83L105.49 453.43M99.89 453.43L105.49 447.83" fill="none" stroke="#0000ff" stroke-width="0.7" stroke-opacity="0.8"/>
<path d="M110.29 451.14L115.89 456.74M110.29 456.74L115.89 451.14" fill="none" stroke="#0000ff" stroke-width="0.7" stroke-opacity="0.8"/>
<path d="M120.68 452.91L126.28 458.51M120.68 458.51L126.28 452.91" fill="none" stroke="#0000ff" stroke-width="0.7" stroke-opacity="0.8"/>
<path d="M131.08 452.91L136.68 458.51M131.08 458.51L136.68 452.91" fill="none" stroke="#0000ff" stroke-width="0.7" stroke-opacity="0.8"/>
<path d="M141.48 452.91L147.08 458.51M141.48 458.51L147.08 452.91" fill="none" stroke="#0000ff" stroke-width="0.7" stroke-opacity="0.8"/>
<path d="M151.88 451.36L157.48 456.96M151.88 456.96L157.48 451.36" fill="none" stroke="#0000ff" stroke-width="0.7" stroke-opacity="0.8"/>
<path d="M162.27 450.92L167.87 456.52M162.27 456.52L167.87 450.92" fill="none" stroke="#0000ff" stroke-width="0.7" stroke-opacity="0.8"/>
<path d="M172.67 452.69L178.27 458.29M172.67 458.29L178.27 452.69" fill="none" stroke="#0000ff" stroke-width="0.7" stroke-opacity="0.8"/>
<path d="M183.07 453.57L188.67 459.17M183.07 459.17L188.67 453.57" fill="none" stroke="#0000ff" stroke-width="0.7" stroke-opacity="0.8"/>
<path d="M193.46 453.72L199.06 459.32M193.46 459.32L199.06 453.72" fill="none" stroke="#0000ff" stroke-width="0.7" stroke-opacity="0.8"/>
<path d="M203.86 453.72L209.46 459.32M203.86 459.32L209.46 453.72" fill="none" stroke="#0000ff" stroke-width="0.7" stroke-opacity="0.8"/>
<path d="M214.26 453.72L219.86 459.32M214.26 459.32L219.86 453.72" fill="none" stroke="#0000ff" stroke-width="0.7" stroke-opacity="0.8"/>
<path d="M224.66 453.72L230.26 459.32M224.66 459.32L230.26 453.72" fill="none" stroke="#0000ff" stroke-width="0.7" stroke-opacity="0.8"/>
<path d="M235.06 453.72L240.66 459.32M235.06 459.32L240.66 453.72" fill="none" stroke="#0000ff" stroke-width="0.7" stroke-opacity="0.8"/>
<path d="M245.45 453.72L251.05 459.32M245.45 459.32L251.05 453.72" fill="none" stroke="#0000ff" stroke-width="0.7" stroke-opacity="0.8"/>
<path d="M255.85 453.72L261.45 459.32M255.85 459.32L261.45 453.72" fill="none" stroke="#0000ff" stroke-width="0.7" stroke-opacity="0.8"/>
<path d="M266.25 453.72L271.85 459.32M266.25 459.32L271.85 453.72" fill="none" stroke="#0000ff" stroke-width="0.7" stroke-opacity="0.8"/>
<path d="M276.65 453.72L282.25 459.32M276.65 459.32L282.25 453.72" fill="none" stroke="#0000ff" stroke-width="0.7" stroke-opacity="0.8"/>
<path d="M287.04 453.72L292.64 459.32M287.04 459.32L292.64 453.72" fill="none" stroke="#0000ff" stroke-width="0.7" stroke-opacity="0.8"/>
<path d="M297.44 453.72L303.04 459.32M297.44 459.32L303.04 453.72" fill="none" stroke="#0000ff" stroke-width="0.7" stroke-opacity="0.8"/>
<path d="M307.84 453.72L313.44 459.32M307.84 459.32L313.44 453.72" fill="none" stroke="#0000ff" stroke-width="0.7" stroke-opacity="0.8"/>
<path d="M318.24 453.72L323.84 459.32M318.24 459.32L323.84 453.72" fill="none" stroke="#0000ff" stroke-width="0.7" stroke-opacity="0.8"/>
<path d="M328.63 453.72L334.23 459.32M328.63 459.32L334.23 453.72" fill="none" stroke="#0000ff" stroke-width="0.7" stroke-opacity="0.8"/>
<path d="M339.03 453.72L344.63 459.32M339.03 459.32L344.63 453.72" fill="none" stroke="#0000ff" stroke-width="0.7" stroke-opacity="0.8"/>
<path d="M349.43 453.72L355.03 459.32M349.43 459.32L355.03 453.72" fill="none" stroke="#0000ff" stroke-width="0.7" stroke-opacity="0.8"/>
<path d="M359.83 453.72L365.43 459.32M359.83 459.32L365.43 453.72" fill="none" stroke="#0000ff" stroke-width="0.7" stroke-opacity="0.8"/>
<path d="M370.22 453.72L375.82 459.32M370.22 459.32L375.82 453.72" fill="none" stroke="#0000ff" stroke-width="0.7" stroke-opacity="0.8"/>
<path d="M380.62 453.72L386.22 459.32M380.62 459.32L386.22 453.72" fill="none" stroke="#0000ff" stroke-width="0.7" stroke-opacity="0.8"/>
<path d="M391.02 453.72L396.62 459.32M391.02 459.32L396.62 453.72" fill="none" stroke="#0000ff" stroke-width="0.7" stroke-opacity="0.8"/>
<path d="M401.41 453.72L407.01 459.32M401.41 459.32L407.01 453.72" fill="none" stroke="#0000ff" stroke-width="0.7" stroke-opacity="0.8"/>
<path d="M411.81 453.72L417.41 459.32M411.81 459.32L417.41 453.72" fill="none" stroke="#0000ff" stroke-width="0.7" stroke-opacity="0.8"/>
<path d="M422.21 453.72L427.81 459.32M422.21 459.32L427.81 453.72" fill="none" stroke="#0000ff" stroke-width="0.7" stroke-opacity="0.8"/>
<path d="M432.61 453.72L438.21 459.32M432.61 459.32L438.21 453.72" fill="none" stroke="#0000ff" stroke-width="0.7" stroke-opacity="0.8"/>
<path d="M443.00 453.72L448.61 459.32M443.00 459.32L448.61 453.72" fill="none" stroke="#0000ff" stroke-width="0.7" stroke-opacity="0.8"/>
<path d="M453.40 453.72L459.00 459.32M453.40 459.32L459.00 453.72" fill="none" stroke="#0000ff" stroke-width="0.7" stroke-opacity="0.8"/>
<path d="M463.80 453.72L469.40 459.32M463.80 459.32L469.40 453.72" fill="none" stroke="#0000ff" stroke-width="0.7" stroke-opacity="0.8"/>
<path d="M161.57 259.34L165.07 254.29L168.57 259.34L165.07 264.39Z" fill="none" stroke="#ff00ff" stroke-width="1.1"/>
<path d="M171.97 284.66L175.47 279.61L178.97 284.66L175.47 289.71Z" fill="none" stroke="#ff00ff" stroke-width="1.1"/>
<path d="M182.37 303.72L185.87 298.67L189.37 303.72L185.87 308.77Z" fill="none" stroke="#ff00ff" stroke-width="1.1"/>
<path d="M192.76 318.08L196.26 313.03L199.76 318.08L196.26 323.13Z" fill="none" stroke="#ff00ff" stroke-width="1.1"/>
<path d="M203.16 330.07L206.66 325.02L210.16 330.07L206.66 335.12Z" fill="none" stroke="#ff00ff" stroke-width="1.1"/>
<path d="M213.56 341.55L217.06 336.50L220.56 341.55L217.06 346.60Z" fill="none" stroke="#ff00ff" stroke-width="1.1"/>
<path d="M223.96 347.00L227.46 341.95L230.96 347.00L227.46 352.05Z" fill="none" stroke="#ff00ff" stroke-width="1.1"/>
<path d="M234.36 351.42L237.86 346.37L241.36 351.42L237.86 356.47Z" fill="none" stroke="#ff00ff" stroke-width="1.1"/>
<path d="M244.75 355.24L248.25 350.19L251.75 355.24L248.25 360.29Z" fill="none" stroke="#ff00ff" stroke-width="1.1"/>
<path d="M255.15 357.75L258.65 352.70L262.15 357.75L258.65 362.80Z" fill="none" stroke="#ff00ff" stroke-width="1.1"/>
<path d="M265.55 367.61L269.05 362.56L272.55 367.61L269.05 372.66Z" fill="none" stroke="#ff00ff" stroke-width="1.1"/>
<path d="M275.95 368.34L279.45 363.29L282.95 368.34L279.45 373.39Z" fill="none" stroke="#ff00ff" stroke-width="1.1"/>
<path d="M286.34 368.34L289.84 363.29L293.34 368.34L289.84 373.39Z" fill="none" stroke="#ff00ff" stroke-width="1.1"/>
<path d="M296.74 368.34L300.24 363.29L303.74 368.34L300.24 373.39Z" fill="none" stroke="#ff00ff" stroke-width="1.1"/>
<path d="M307.14 370.48L310.64 365.43L314.14 370.48L310.64 375.53Z" fill="none" stroke="#ff00ff" stroke-width="1.1"/>
<path d="M317.54 369.82L321.04 364.77L324.54 369.82L321.04 374.87Z" fill="none" stroke="#ff00ff" stroke-width="1.1"/>
<path d="M327.93 370.26L331.43 365.21L334.93 370.26L331.43 375.31Z" fill="none" stroke="#ff00ff" stroke-width="1.1"/>
<path d="M338.33 370.40L341.83 365.35L345.33 370.40L341.83 375.45Z" fill="none" stroke="#ff00ff" stroke-width="1.1"/>
<path d="M348.73 370.70L352.23 365.65L355.73 370.70L352.23 375.75Z" fill="none" stroke="#ff00ff" stroke-width="1.1"/>
<path d="M359.13 369.30L362.63 364.25L366.13 369.30L362.63 374.35Z" fill="none" stroke="#ff00ff" stroke-width="1.1"/>
<path d="M369.52 368.20L373.02 363.15L376.52 368.20L373.02 373.25Z" fill="none" stroke="#ff00ff" stroke-width="1.1"/>
<path d="M379.92 366.50L383.42 361.45L386.92 366.50L383.42 371.55Z" fill="none" stroke="#ff00ff" stroke-width="1.1"/>
<path d="M390.32 365.92L393.82 360.87L397.32 365.92L393.82 370.97Z" fill="none" stroke="#ff00ff" stroke-width="1.1"/>
<path d="M400.71 365.92L404.21 360.87L407.71 365.92L404.21 370.97Z" fill="none" stroke="#ff00ff" stroke-width="1.1"/>
<path d="M411.11 365.11L414.61 360.06L418.11 365.11L414.61 370.16Z" fill="none" stroke="#ff00ff" stroke-width="1.1"/>
<path d="M421.51 365.92L425.01 360.87L428.51 365.92L425.01 370.97Z" fill="none" stroke="#ff00ff" stroke-width="1.1"/>
<path d="M431.91 365.40L435.41 360.35L438.91 365.40L435.41 370.45Z" fill="none" stroke="#ff00ff" stroke-width="1.1"/>
<path d="M442.31 366.80L445.81 361.75L449.31 366.80L445.81 371.85Z" fill="none" stroke="#ff00ff" stroke-width="1.1"/>
<path d="M452.70 366.50L456.20 361.45L459.70 366.50L456.20 371.55Z" fill="none" stroke="#ff00ff" stroke-width="1.1"/>
<path d="M463.10 366.80L466.60 361.75L470.10 366.80L466.60 371.85Z" fill="none" stroke="#ff00ff" stroke-width="1.1"/>
<rect x="99.64" y="276.02" width="6.1" height="6.1" fill="none" stroke="#ff0000" stroke-width="1.1"/>
<rect x="110.04" y="327.68" width="6.1" height="6.1" fill="none" stroke="#ff0000" stroke-width="1.1"/>
<rect x="120.43" y="366.69" width="6.1" height="6.1" fill="none" stroke="#ff0000" stroke-width="1.1"/>
<rect x="130.83" y="392.82" width="6.1" height="6.1" fill="none" stroke="#ff0000" stroke-width="1.1"/>
<rect x="141.23" y="411.44" width="6.1" height="6.1" fill="none" stroke="#ff0000" stroke-width="1.1"/>
<rect x="151.62" y="418.80" width="6.1" height="6.1" fill="none" stroke="#ff0000" stroke-width="1.1"/>
<rect x="162.02" y="426.38" width="6.1" height="6.1" fill="none" stroke="#ff0000" stroke-width="1.1"/>
<rect x="172.42" y="432.20" width="6.1" height="6.1" fill="none" stroke="#ff0000" stroke-width="1.1"/>
<rect x="182.82" y="436.47" width="6.1" height="6.1" fill="none" stroke="#ff0000" stroke-width="1.1"/>
<rect x="193.21" y="438.60" width="6.1" height="6.1" fill="none" stroke="#ff0000" stroke-width="1.1"/>
<rect x="203.61" y="440.29" width="6.1" height="6.1" fill="none" stroke="#ff0000" stroke-width="1.1"/>
<rect x="214.01" y="441.10" width="6.1" height="6.1" fill="none" stroke="#ff0000" stroke-width="1.1"/>
<rect x="224.41" y="442.06" width="6.1" height="6.1" fill="none" stroke="#ff0000" stroke-width="1.1"/>
<rect x="234.81" y="442.57" width="6.1" height="6.1" fill="none" stroke="#ff0000" stroke-width="1.1"/>
<rect x="245.20" y="443.90" width="6.1" height="6.1" fill="none" stroke="#ff0000" stroke-width="1.1"/>
<rect x="255.60" y="444.56" width="6.1" height="6.1" fill="none" stroke="#ff0000" stroke-width="1.1"/>
<rect x="266.00" y="445.96" width="6.1" height="6.1" fill="none" stroke="#ff0000" stroke-width="1.1"/>
<rect x="276.40" y="447.65" width="6.1" height="6.1" fill="none" stroke="#ff0000" stroke-width="1.1"/>
<rect x="286.79" y="448.09" width="6.1" height="6.1" fill="none" stroke="#ff0000" stroke-width="1.1"/>
<rect x="297.19" y="448.46" width="6.1" height="6.1" fill="none" stroke="#ff0000" stroke-width="1.1"/>
<rect x="307.59" y="448.90" width="6.1" height="6.1" fill="none" stroke="#ff0000" stroke-width="1.1"/>
<rect x="317.99" y="449.12" width="6.1" height="6.1" fill="none" stroke="#ff0000" stroke-width="1.1"/>
<rect x="328.38" y="449.57" width="6.1" height="6.1" fill="none" stroke="#ff0000" stroke-width="1.1"/>
<rect x="338.78" y="449.49" width="6.1" height="6.1" fill="none" stroke="#ff0000" stroke-width="1.1"/>
<rect x="349.18" y="449.93" width="6.1" height="6.1" fill="none" stroke="#ff0000" stroke-width="1.1"/>
<rect x="359.58" y="450.23" width="6.1" height="6.1" fill="none" stroke="#ff0000" stroke-width="1.1"/>
<rect x="369.97" y="450.38" width="6.1" height="6.1" fill="none" stroke="#ff0000" stroke-width="1.1"/>
<rect x="380.37" y="450.60" width="6.1" height="6.1" fill="none" stroke="#ff0000" stroke-width="1.1"/>
<rect x="390.77" y="450.74" width="6.1" height="6.1" fill="none" stroke="#ff0000" stroke-width="1.1"/>
<rect x="401.16" y="450.96" width="6.1" height="6.1" fill="none" stroke="#ff0000" stroke-width="1.1"/>
<rect x="411.56" y="451.11" width="6.1" height="6.1" fill="none" stroke="#ff0000" stroke-width="1.1"/>
<rect x="421.96" y="451.26" width="6.1" height="6.1" fill="none" stroke="#ff0000" stroke-width="1.1"/>
<rect x="432.36" y="451.41" width="6.1" height="6.1" fill="none" stroke="#ff0000" stroke-width="1.1"/>
<rect x="442.75" y="451.63" width="6.1" height="6.1" fill="none" stroke="#ff0000" stroke-width="1.1"/>
<rect x="453.15" y="451.77" width="6.1" height="6.1" fill="none" stroke="#ff0000" stroke-width="1.1"/>
<rect x="463.55" y="451.92" width="6.1" height="6.1" fill="none" stroke="#ff0000" stroke-width="1.1"/>
<text x="47.23" y="473.30" style="font-size:12.5px;stroke-width:0.85px">0</text>
<path d="M102.69 457.4v-4.2M102.69 255.0v4.2" stroke="#000" stroke-width="1"/>
<text x="99.21" y="473.30" style="font-size:12.5px;stroke-width:0.85px">5</text>
<path d="M154.68 457.4v-4.2M154.68 255.0v4.2" stroke="#000" stroke-width="1"/>
<path transform="translate(147.73 473.30) scale(12.5)" d="M0.359 0H0.271V-0.505H0.101V-0.568C0.2 -0.572 0.288 -0.6 0.302 -0.709H0.359Z" fill="#000" stroke="#000" stroke-width="0.0680" stroke-linejoin="round"/><text x="154.68" y="473.30" style="font-size:12.5px;stroke-width:0.85px">0</text>
<path d="M206.66 457.4v-4.2M206.66 255.0v4.2" stroke="#000" stroke-width="1"/>
<path transform="translate(199.71 473.30) scale(12.5)" d="M0.359 0H0.271V-0.505H0.101V-0.568C0.2 -0.572 0.288 -0.6 0.302 -0.709H0.359Z" fill="#000" stroke="#000" stroke-width="0.0680" stroke-linejoin="round"/><text x="206.66" y="473.30" style="font-size:12.5px;stroke-width:0.85px">5</text>
<path d="M258.65 457.4v-4.2M258.65 255.0v4.2" stroke="#000" stroke-width="1"/>
<text x="251.70" y="473.30" style="font-size:12.5px;stroke-width:0.85px">2</text><text x="258.65" y="473.30" style="font-size:12.5px;stroke-width:0.85px">0</text>
<path d="M310.64 457.4v-4.2M310.64 255.0v4.2" stroke="#000" stroke-width="1"/>
<text x="303.69" y="473.30" style="font-size:12.5px;stroke-width:0.85px">2</text><text x="310.64" y="473.30" style="font-size:12.5px;stroke-width:0.85px">5</text>
<path d="M362.63 457.4v-4.2M362.63 255.0v4.2" stroke="#000" stroke-width="1"/>
<text x="355.68" y="473.30" style="font-size:12.5px;stroke-width:0.85px">3</text><text x="362.63" y="473.30" style="font-size:12.5px;stroke-width:0.85px">0</text>
<path d="M414.61 457.4v-4.2M414.61 255.0v4.2" stroke="#000" stroke-width="1"/>
<text x="407.66" y="473.30" style="font-size:12.5px;stroke-width:0.85px">3</text><text x="414.61" y="473.30" style="font-size:12.5px;stroke-width:0.85px">5</text>
<text x="459.65" y="473.30" style="font-size:12.5px;stroke-width:0.85px">4</text><text x="466.60" y="473.30" style="font-size:12.5px;stroke-width:0.85px">0</text>
<text x="39.75" y="462.15" style="font-size:12.5px;stroke-width:0.85px">0</text>
<path d="M51.0 420.60h4.2M466.6 420.60h-4.2" stroke="#000" stroke-width="1"/>
<text x="25.85" y="425.35" style="font-size:12.5px;stroke-width:0.85px">5</text><text x="32.80" y="425.35" style="font-size:12.5px;stroke-width:0.85px">0</text><text x="39.75" y="425.35" style="font-size:12.5px;stroke-width:0.85px">0</text>
<path d="M51.0 383.80h4.2M466.6 383.80h-4.2" stroke="#000" stroke-width="1"/>
<path transform="translate(18.90 388.55) scale(12.5)" d="M0.359 0H0.271V-0.505H0.101V-0.568C0.2 -0.572 0.288 -0.6 0.302 -0.709H0.359Z" fill="#000" stroke="#000" stroke-width="0.0680" stroke-linejoin="round"/><text x="25.85" y="388.55" style="font-size:12.5px;stroke-width:0.85px">0</text><text x="32.80" y="388.55" style="font-size:12.5px;stroke-width:0.85px">0</text><text x="39.75" y="388.55" style="font-size:12.5px;stroke-width:0.85px">0</text>
<path d="M51.0 347.00h4.2M466.6 347.00h-4.2" stroke="#000" stroke-width="1"/>
<path transform="translate(18.90 351.75) scale(12.5)" d="M0.359 0H0.271V-0.505H0.101V-0.568C0.2 -0.572 0.288 -0.6 0.302 -0.709H0.359Z" fill="#000" stroke="#000" stroke-width="0.0680" stroke-linejoin="round"/><text x="25.85" y="351.75" style="font-size:12.5px;stroke-width:0.85px">5</text><text x="32.80" y="351.75" style="font-size:12.5px;stroke-width:0.85px">0</text><text x="39.75" y="351.75" style="font-size:12.5px;stroke-width:0.85px">0</text>
<path d="M51.0 310.20h4.2M466.6 310.20h-4.2" stroke="#000" stroke-width="1"/>
<text x="18.90" y="314.95" style="font-size:12.5px;stroke-width:0.85px">2</text><text x="25.85" y="314.95" style="font-size:12.5px;stroke-width:0.85px">0</text><text x="32.80" y="314.95" style="font-size:12.5px;stroke-width:0.85px">0</text><text x="39.75" y="314.95" style="font-size:12.5px;stroke-width:0.85px">0</text>
<path d="M51.0 273.40h4.2M466.6 273.40h-4.2" stroke="#000" stroke-width="1"/>
<text x="18.90" y="278.15" style="font-size:12.5px;stroke-width:0.85px">2</text><text x="25.85" y="278.15" style="font-size:12.5px;stroke-width:0.85px">5</text><text x="32.80" y="278.15" style="font-size:12.5px;stroke-width:0.85px">0</text><text x="39.75" y="278.15" style="font-size:12.5px;stroke-width:0.85px">0</text>
<rect x="50.6" y="255.0" width="416.0" height="202.39999999999998" fill="none" stroke="#000" stroke-width="1.1"/>
<text x="258.80" y="488.60" text-anchor="middle" class="l">Iterations</text>
<text transform="translate(9.0,356.20) rotate(-90)" text-anchor="middle" class="l r">Disagreement</text>
<rect x="373.5" y="261.6" width="86.80000000000001" height="78.89999999999998" fill="#fff" stroke="#000" stroke-width="1.2"/>
<path d="M381.2 274.20H419.5" stroke="#00ff00" stroke-width="1.05"/>
<circle cx="400.30" cy="274.20" r="3.7" fill="none" stroke="#00ff00" stroke-width="1.2000000000000002"/>
<text x="423.8" y="276.15" class="g">ACF</text>
<path transform="translate(449.00 282.60) scale(10.8)" d="M0.359 0H0.271V-0.505H0.101V-0.568C0.2 -0.572 0.288 -0.6 0.302 -0.709H0.359Z" fill="#000" stroke="#000" stroke-width="0.0787" stroke-linejoin="round"/>
<path d="M381.2 295.60H419.5" stroke="#0000ff" stroke-width="1.05"/>
<path d="M397.50 292.80L403.10 298.40M397.50 298.40L403.10 292.80" fill="none" stroke="#0000ff" stroke-width="0.7" stroke-opacity="0.8"/>
<text x="423.8" y="297.20" class="g">ACF</text>
<text x="449.00" y="303.90" style="font-size:10.8px;stroke-width:0.85px">2</text>
<path d="M381.2 314.00H419.5" stroke="#ff00ff" stroke-width="1.05"/>
<path d="M396.80 314.00L400.30 308.95L403.80 314.00L400.30 319.05Z" fill="none" stroke="#ff00ff" stroke-width="1.1"/>
<text x="423.8" y="318.50" class="g">KCF</text>
<path d="M381.2 330.80H419.5" stroke="#ff0000" stroke-width="1.05"/>
<rect x="397.25" y="327.75" width="6.1" height="6.1" fill="none" stroke="#ff0000" stroke-width="1.1"/>
<text x="423.8" y="335.40" class="g">ICF</text>
</svg>
</body></html>
